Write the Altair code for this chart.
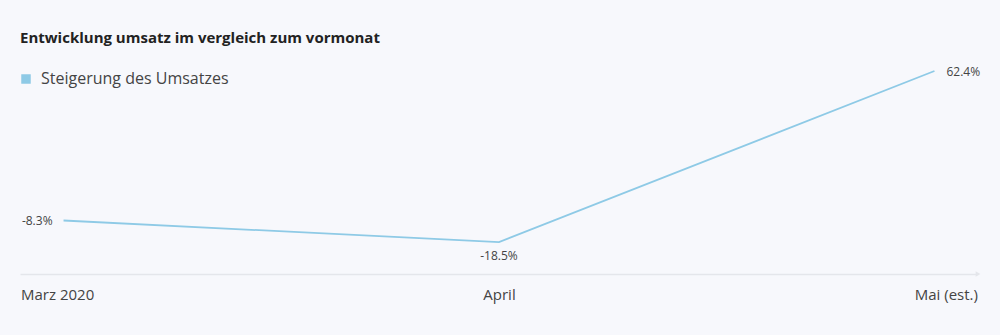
import altair as alt
import pandas as pd

months = ["Marz 2020", "April", "Mai (est.)"]
values = [-8.3, -18.5, 62.4]
labels = ["-8.3%", "-18.5%", "62.4%"]
series = "Steigerung des Umsatzes"

df = pd.DataFrame({"month": months, "value": values, "label": labels, "series": [series] * 3})

FONT = "Open Sans"
BLUE = "#8ecae6"
AXIS = "#e4e6eb"

x = alt.X("month:N", sort=months, title=None,
          scale=alt.Scale(type="point", padding=0.1),
          axis=alt.Axis(domainColor=AXIS, domainWidth=1.5, ticks=False, grid=False,
                        labelFont=FONT, labelFontSize=15, labelColor="#444",
                        labelPadding=13, labelAngle=0,
                        labelFlush=60, labelFlushOffset=43))
y = alt.Y("value:Q", title=None, axis=None,
          scale=alt.Scale(domain=[-33.6, 67.6], nice=False, zero=False))

line = alt.Chart(df).mark_line(strokeWidth=1.8).encode(
    x=x, y=y,
    color=alt.Color("series:N", scale=alt.Scale(range=[BLUE]),
                    legend=alt.Legend(title=None, orient="none", legendX=-2, legendY=11,
                                      symbolType="square", symbolSize=90,
                                      symbolFillColor=BLUE, symbolStrokeWidth=0,
                                      labelFont=FONT, labelFontSize=16, labelColor="#444",
                                      labelOffset=7, labelLimit=400))
)

base = alt.Chart(df)
t0 = base.transform_filter(alt.datum.month == months[0]).mark_text(
    align="right", baseline="middle", dx=-11, font=FONT, fontSize=12, color="#444"
).encode(x=x, y=y, text="label:N")
t1 = base.transform_filter(alt.datum.month == months[1]).mark_text(
    align="center", baseline="middle", dy=14, font=FONT, fontSize=12, color="#444"
).encode(x=x, y=y, text="label:N")
t2 = base.transform_filter(alt.datum.month == months[2]).mark_text(
    align="left", baseline="middle", dx=12, dy=1, font=FONT, fontSize=12, color="#444"
).encode(x=x, y=y, text="label:N")

arrow = alt.Chart(pd.DataFrame({"a": [1]})).mark_point(
    shape="triangle-right", filled=True, size=30, color=AXIS, opacity=1
).encode(x=alt.value(958), y=alt.value(214))

chart = alt.layer(line, t0, t1, t2, arrow).properties(
    width=958, height=214,
    padding={"left": 20, "top": 60, "right": 22, "bottom": 61},
    autosize=alt.AutoSizeParams(type="none"),
    background="#f7f8fc",
    title=alt.TitleParams("Entwicklung umsatz im vergleich zum vormonat", anchor="start",
                          frame="group", font=FONT, fontSize=15, fontWeight="bold",
                          color="#222", offset=14),
).configure_view(stroke=None)

chart.save("out.html", embed_options={"renderer": "svg", "actions": False})
